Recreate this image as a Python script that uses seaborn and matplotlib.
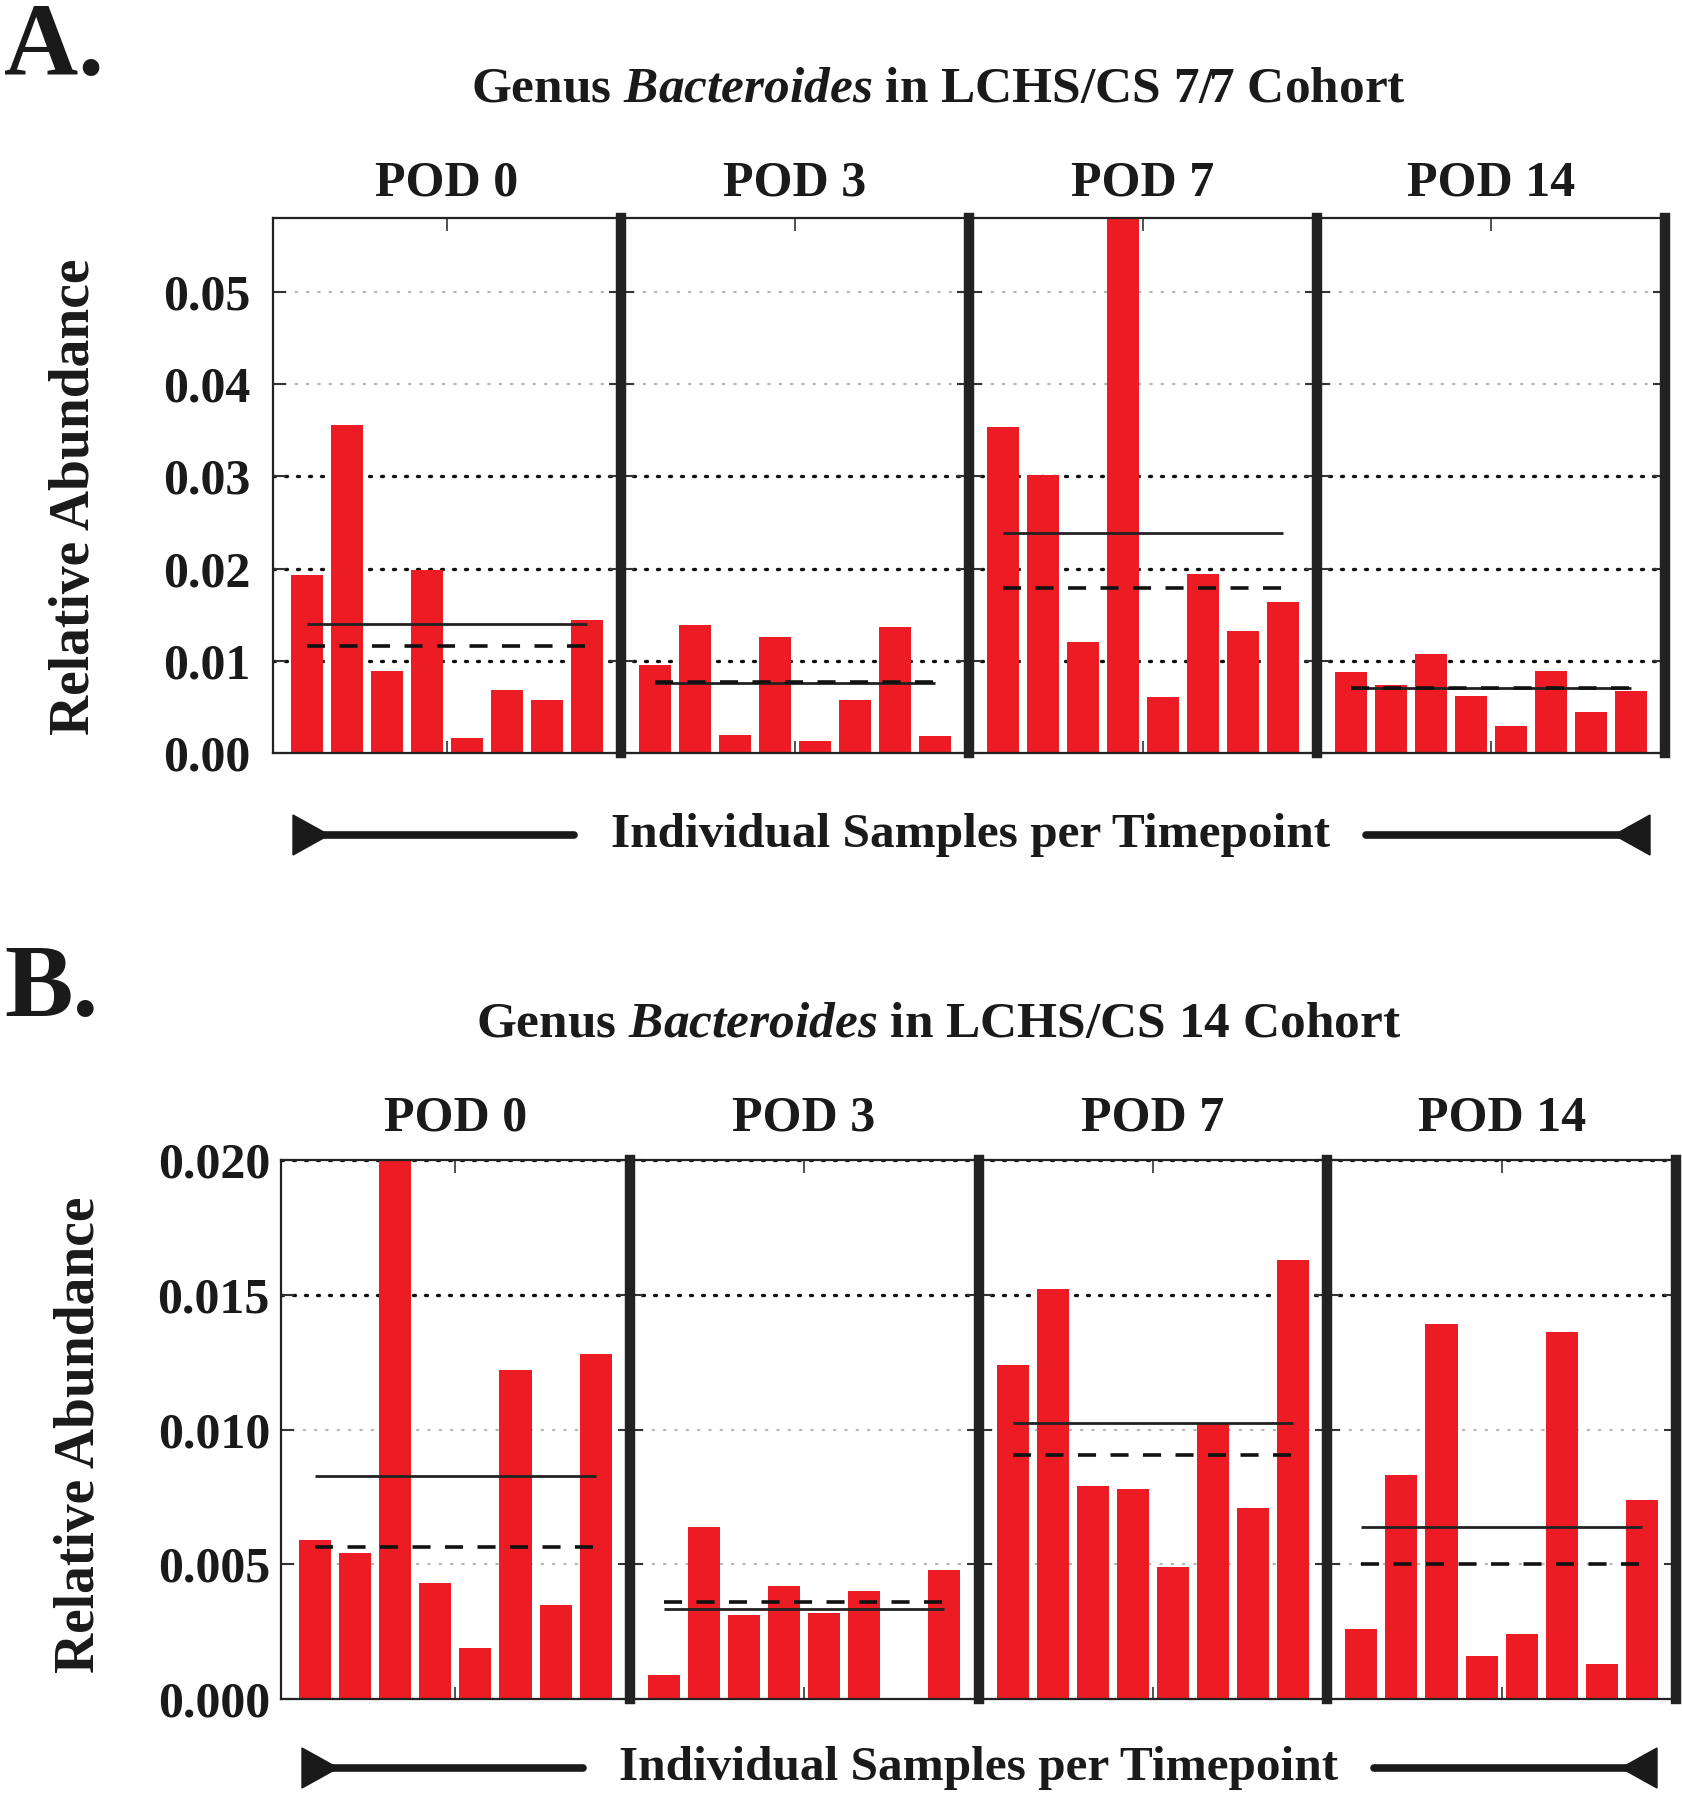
import numpy as np
import pandas as pd
import matplotlib
matplotlib.use("Agg")
import matplotlib.pyplot as plt
import seaborn as sns
from matplotlib.lines import Line2D
from matplotlib.patches import Polygon

W, H = 1683, 1800

pods = ["POD 0", "POD 3", "POD 7", "POD 14"]
samples = [1, 2, 3, 4, 5, 6, 7, 8]

# cohort A: LCHS/CS 7/7
a_pod0 = [0.0193, 0.0356, 0.0089, 0.0198, 0.0016, 0.0068, 0.0057, 0.0144]
a_pod3 = [0.0095, 0.0139, 0.0019, 0.0126, 0.0013, 0.0058, 0.0137, 0.0018]
a_pod7 = [0.0353, 0.0301, 0.0120, 0.0585, 0.0061, 0.0194, 0.0132, 0.0164]
a_pod14 = [0.0088, 0.0074, 0.0107, 0.0062, 0.0029, 0.0089, 0.0044, 0.0067]

# cohort B: LCHS/CS 14
b_pod0 = [0.0059, 0.0054, 0.0201, 0.0043, 0.0019, 0.0122, 0.0035, 0.0128]
b_pod3 = [0.0009, 0.0064, 0.0031, 0.0042, 0.0032, 0.0040, 0.0000, 0.0048]
b_pod7 = [0.0124, 0.0152, 0.0079, 0.0078, 0.0049, 0.0102, 0.0071, 0.0163]
b_pod14 = [0.0026, 0.0083, 0.0139, 0.0016, 0.0024, 0.0136, 0.0013, 0.0074]

a_yticks = [0.0, 0.01, 0.02, 0.03, 0.04, 0.05]
a_ylabels = ["0.00", "0.01", "0.02", "0.03", "0.04", "0.05"]
b_yticks = [0.0, 0.005, 0.010, 0.015, 0.020]
b_ylabels = ["0.000", "0.005", "0.010", "0.015", "0.020"]

sns.set_theme(style="white")
plt.rcParams["font.family"] = ["Liberation Serif", "DejaVu Serif"]
plt.rcParams["font.weight"] = "bold"
plt.rcParams["text.color"] = "#1a1a1a"
plt.rcParams["mathtext.fontset"] = "custom"
plt.rcParams["mathtext.it"] = "Liberation Serif:bold:italic"
plt.rcParams["mathtext.rm"] = "Liberation Serif:bold"

RED = "#ED1C24"
INK = "#1a1a1a"
fig = plt.figure(figsize=(W / 100, H / 100), dpi=100)


def px(x, y):
    return x / W, 1 - y / H


def draw_cohort(box, series, ylim, yticks, ylabels, dark, light, tpad, lpad):
    left, top, right, bottom = box
    gs = fig.add_gridspec(1, 4, left=left / W, right=right / W,
                          top=1 - top / H, bottom=1 - bottom / H, wspace=0)
    axes = []
    for i, (pod, vals) in enumerate(zip(pods, series)):
        ax = fig.add_subplot(gs[0, i])
        df = pd.DataFrame({"sample": samples, "abundance": vals})
        for lv in dark:
            ax.axhline(lv, color="#111111", lw=2.4, ls=(0, (0.6, 3.0)),
                       dash_capstyle="round", zorder=0)
        for lv in light:
            ax.axhline(lv, color="#b5b5b5", lw=1.6, ls=(0, (0.6, 4.5)),
                       dash_capstyle="round", zorder=0)
        sns.barplot(data=df, x="sample", y="abundance", color=RED,
                    saturation=1, width=0.8, errorbar=None, linewidth=0,
                    ax=ax, zorder=2)
        # solid = mean, dashed = median
        ax.hlines(np.mean(vals), 0, len(vals) - 1, color="#222222", lw=2.0,
                  zorder=3)
        ax.hlines(np.median(vals), 0, len(vals) - 1, color="#111111", lw=2.6,
                  ls=(0, (5, 4)), zorder=3)
        ax.set_xlim(-0.85, 7.85)
        ax.set_ylim(*ylim)
        ax.set_xticks([3.5])
        ax.set_xticklabels([])
        ax.set_yticks(yticks)
        ax.tick_params(axis="x", direction="in", top=True, bottom=True,
                       length=9, width=1.2, color="#333333")
        ax.tick_params(axis="y", direction="in", left=True, right=True,
                       length=9, width=1.5, color="#333333", pad=lpad,
                       labelsize=36, labelcolor=INK)
        if i == 0:
            ax.set_yticklabels(ylabels, fontweight="bold")
        else:
            ax.set_yticklabels([])
        ax.set_xlabel("")
        ax.set_ylabel("")
        ax.set_title(pod, fontsize=36, fontweight="bold", pad=tpad)
        for s in ["top", "bottom", "left", "right"]:
            ax.spines[s].set_color("#222222")
        ax.spines["top"].set_linewidth(1.6)
        ax.spines["bottom"].set_linewidth(1.6)
        ax.spines["left"].set_linewidth(1.6 if i == 0 else 7.5)
        if i == 3:
            ax.spines["right"].set_linewidth(7.5)
        else:
            ax.spines["right"].set_visible(False)
        axes.append(ax)
    return axes


def span_arrow(y, x0, x1, x2, x3, tx, label):
    # left and right triangles with a thick bar and centered label
    h = 20
    tri_w = 36
    fig.add_artist(Polygon([px(x0, y - h), px(x0, y + h), px(x0 + tri_w, y)],
                           closed=True, transform=fig.transFigure, color=INK))
    fig.add_artist(Polygon([px(x3, y - h), px(x3, y + h), px(x3 - tri_w, y)],
                           closed=True, transform=fig.transFigure, color=INK))
    for a, b in [(x0 + 10, x1), (x2, x3 - 10)]:
        xa, ya = px(a, y)
        xb, yb = px(b, y)
        fig.add_artist(Line2D([xa, xb], [ya, yb], transform=fig.transFigure,
                              color=INK, lw=5.5))
    fig.text(*px(tx, y), label, ha="center", va="center", fontsize=35.5,
             fontweight="bold")


# panel A
draw_cohort((273, 218, 1665, 753), [a_pod0, a_pod3, a_pod7, a_pod14],
            (0, 0.058), a_yticks, a_ylabels, [0.01, 0.02, 0.03],
            [0.04, 0.05], 16, 16)
fig.text(*px(938, 90), r"Genus $\mathit{Bacteroides}$ in LCHS/CS 7/7 Cohort",
         ha="center", va="center", fontsize=37, fontweight="bold")
fig.text(*px(4, 75), "A.", ha="left", va="baseline", fontsize=74,
         fontweight="bold")
fig.text(*px(75, 497), "Relative Abundance", rotation=90, ha="center",
         va="center", fontsize=40, fontweight="bold")
span_arrow(835, 293, 574, 1366, 1650, 971, "Individual Samples per Timepoint")

# panel B
draw_cohort((281, 1160, 1676, 1699), [b_pod0, b_pod3, b_pod7, b_pod14],
            (0, 0.020), b_yticks, b_ylabels, [0.015, 0.020],
            [0.005, 0.010], 21, 8)
fig.text(*px(939, 1025), r"Genus $\mathit{Bacteroides}$ in LCHS/CS 14 Cohort",
         ha="center", va="center", fontsize=37, fontweight="bold")
fig.text(*px(4, 1016), "B.", ha="left", va="baseline", fontsize=74,
         fontweight="bold")
fig.text(*px(80, 1435), "Relative Abundance", rotation=90, ha="center",
         va="center", fontsize=40, fontweight="bold")
span_arrow(1768, 302, 583, 1374, 1657, 979, "Individual Samples per Timepoint")

fig.savefig("out.png", dpi=100, facecolor="white")
